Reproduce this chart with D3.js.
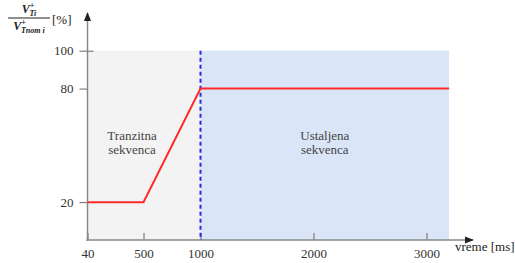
<!DOCTYPE html>
<html lang="en">
<head>
  <meta charset="UTF-8">
  <title>Tranzitna i ustaljena sekvenca</title>
  <script src="https://d3js.org/d3.v7.min.js"></script>
  <style>
    body, html {
      margin: 0;
      padding: 0;
      background: #fff;
      overflow: hidden;
    }
    svg {
      display: block;
    }
    svg text {
      font-family: "Liberation Serif", "Times New Roman", serif !important;
    }
    .tick text {
      font-size: 13px;
      fill: #333;
    }
    .phase-label {
      font-size: 13px;
      fill: #444;
    }
  </style>
</head>
<body>
  <svg id="chart" width="515" height="263"></svg>

  <script>
    // data
    const timeTicks = [40, 500, 1000, 2000, 3000];
    const levelTicks = [20, 80, 100];
    const profileTime = [40, 500, 1000, 3200];
    const profileLevel = [20, 20, 80, 80];
    const phaseBounds = [[40, 1000], [1000, 3200]];
    const phaseNames = [["Tranzitna", "sekvenca"], ["Ustaljena", "sekvenca"]];
    const phaseColors = ["#f3f3f3", "#dae6f8"];
    const markerTime = 1000;

    const svg = d3.select("#chart");
    const serif = "'Liberation Serif', 'Times New Roman', serif";

    // x axis is not quite linear in the original, so map it piecewise
    const x = d3.scaleLinear()
      .domain([40, 500, 1000, 3000])
      .range([87.5, 143.5, 200.5, 426.5]);

    const y = d3.scaleLinear()
      .domain([0, 100])
      .range([240, 50.7]);

    const axisX = 87.5;
    const axisY = 240;

    // shaded phases
    svg.selectAll("rect.phase")
      .data(phaseBounds)
      .join("rect")
      .attr("class", "phase")
      .attr("x", d => x(d[0]))
      .attr("y", y(100))
      .attr("width", d => x(d[1]) - x(d[0]))
      .attr("height", y(0) - y(100))
      .attr("fill", (d, i) => phaseColors[i]);

    // phase labels
    phaseBounds.forEach((b, i) => {
      const cx = i === 0 ? 132 : (x(b[0]) + x(b[1])) / 2;
      const t = svg.append("text")
        .attr("class", "phase-label")
        .attr("font-family", serif)
        .attr("text-anchor", "middle")
        .attr("x", cx)
        .attr("y", 140);
      phaseNames[i].forEach((line, k) => {
        t.append("tspan")
          .attr("x", cx)
          .attr("dy", k === 0 ? 0 : 14)
          .text(line);
      });
    });

    // arrow marker
    svg.append("defs").append("marker")
      .attr("id", "arrow")
      .attr("viewBox", "0 0 10 10")
      .attr("refX", 9)
      .attr("refY", 5)
      .attr("markerWidth", 6)
      .attr("markerHeight", 6)
      .attr("orient", "auto")
      .append("path")
      .attr("d", "M0,1 L10,5 L0,9 Z")
      .attr("fill", "#222");

    // y axis
    const yAxis = svg.append("g")
      .attr("transform", `translate(${axisX},0)`)
      .call(d3.axisLeft(y).tickValues(levelTicks).tickSize(8).tickPadding(6));
    yAxis.attr("font-family", serif);
    yAxis.select(".domain").remove();
    yAxis.selectAll(".tick line")
      .attr("x2", d => d === 100 ? 6 : 0)
      .attr("x1", -8)
      .attr("stroke", "#666");

    // x axis
    const xAxis = svg.append("g")
      .attr("transform", `translate(0,${axisY})`)
      .call(d3.axisBottom(x).tickValues(timeTicks).tickFormat(d3.format("d"))
        .tickSize(-7).tickPadding(9));
    xAxis.attr("font-family", serif);
    xAxis.select(".domain").remove();
    xAxis.selectAll(".tick line").attr("stroke", "#666");

    // axis lines with arrows
    svg.append("line")
      .attr("x1", axisX).attr("y1", axisY + 1)
      .attr("x2", axisX).attr("y2", 13)
      .attr("stroke", "#888")
      .attr("stroke-width", 1.5)
      .attr("marker-end", "url(#arrow)");

    svg.append("line")
      .attr("x1", axisX - 1).attr("y1", axisY)
      .attr("x2", 473).attr("y2", axisY)
      .attr("stroke", "#888")
      .attr("stroke-width", 1.5)
      .attr("marker-end", "url(#arrow)");

    // dashed marker between phases
    svg.append("line")
      .attr("x1", x(markerTime)).attr("y1", y(100))
      .attr("x2", x(markerTime)).attr("y2", axisY)
      .attr("stroke", "#2b2bdd")
      .attr("stroke-width", 2)
      .attr("stroke-dasharray", "4,3");

    // voltage profile
    const line = d3.line()
      .x(d => x(d[0]))
      .y(d => y(d[1]));

    svg.append("path")
      .datum(d3.zip(profileTime, profileLevel))
      .attr("d", line)
      .attr("fill", "none")
      .attr("stroke", "#ff2a2a")
      .attr("stroke-width", 2);

    // x axis title
    svg.append("text")
      .attr("x", 455)
      .attr("y", 251)
      .attr("font-family", serif)
      .attr("font-size", 13)
      .attr("fill", "#222")
      .text("vreme [ms]");

    // y axis title: V+Ti / V+Tnom i [%]
    const yTitle = svg.append("g").attr("fill", "#222").attr("font-family", serif);
    const num = yTitle.append("text")
      .attr("x", 29)
      .attr("y", 13)
      .attr("text-anchor", "middle")
      .attr("font-size", 12)
      .attr("font-style", "italic")
      .attr("font-weight", "bold");
    num.append("tspan").text("V");
    num.append("tspan").attr("font-size", 8).attr("dy", -5).text("+");
    num.append("tspan").attr("font-size", 8).attr("dx", -5).attr("dy", 8).text("Ti");

    yTitle.append("line")
      .attr("x1", 8).attr("x2", 50)
      .attr("y1", 18).attr("y2", 18)
      .attr("stroke", "#222")
      .attr("stroke-width", 1);

    const den = yTitle.append("text")
      .attr("x", 29)
      .attr("y", 30)
      .attr("text-anchor", "middle")
      .attr("font-size", 12)
      .attr("font-style", "italic")
      .attr("font-weight", "bold");
    den.append("tspan").text("V");
    den.append("tspan").attr("font-size", 8).attr("dy", -5).text("+");
    den.append("tspan").attr("font-size", 8).attr("dx", -5).attr("dy", 8).text("Tnom i");

    yTitle.append("text")
      .attr("x", 52)
      .attr("y", 24)
      .attr("font-size", 13)
      .text("[%]");
  </script>
</body>
</html>
